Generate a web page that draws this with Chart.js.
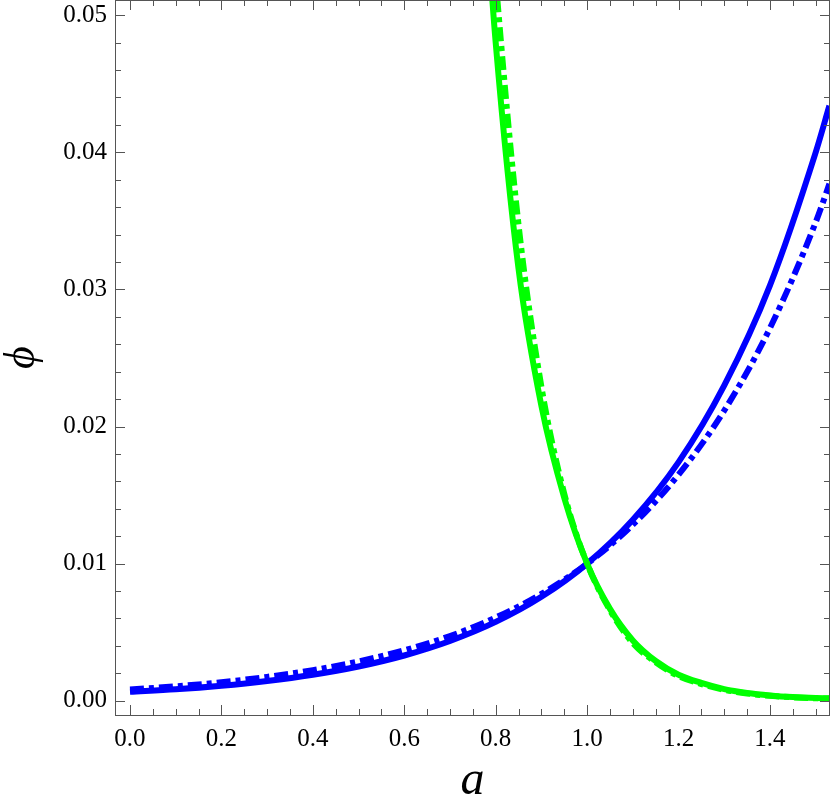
<!DOCTYPE html>
<html><head><meta charset="utf-8">
<script src="https://cdn.jsdelivr.net/npm/chart.js@4.4.0/dist/chart.umd.min.js"></script>
<style>html,body{margin:0;padding:0;background:#fff;overflow:hidden}#wrap{width:830px;height:797px}</style>
</head><body><div id="wrap"><canvas id="c" width="830" height="797"></canvas></div>
<script>
// ---- data ----
const aBlue = [0, 0.1, 0.2, 0.3, 0.4, 0.5, 0.6, 0.7, 0.8, 0.9, 1.0, 1.1, 1.2, 1.3, 1.4, 1.5, 1.53];
const phiBlueSolid  = [0.00065, 0.00083, 0.00109, 0.00144, 0.0019, 0.0025, 0.0033, 0.00436, 0.00575, 0.00758, 0.0100, 0.0132, 0.0174, 0.0230, 0.0303, 0.0400, 0.0434];
const phiBlueDashed = [0.00082, 0.00105, 0.00135, 0.00174, 0.00223, 0.00287, 0.00368, 0.00472, 0.00607, 0.00779, 0.0100, 0.01284, 0.01649, 0.02117, 0.02718, 0.0349, 0.0377];
const aGreen = [0.77, 0.8, 0.85, 0.9, 0.95, 1.0, 1.05, 1.1, 1.15, 1.2, 1.25, 1.3, 1.35, 1.4, 1.45, 1.5, 1.53];
const phiGreenSolid  = [0.0616, 0.048, 0.0315, 0.0215, 0.0148, 0.0100, 0.0067, 0.0044, 0.0029, 0.0019, 0.0013, 0.00085, 0.00057, 0.00039, 0.00027, 0.0002, 0.00018];
const phiGreenDashed = [0.0660, 0.0526, 0.0347, 0.0229, 0.0151, 0.0100, 0.0066, 0.0042, 0.0028, 0.0018, 0.00122, 0.0008, 0.00053, 0.00036, 0.00025, 0.00018, 0.00016];
const xTickValues = [0, 0.2, 0.4, 0.6, 0.8, 1.0, 1.2, 1.4];
const yTickValues = [0, 0.01, 0.02, 0.03, 0.04, 0.05];
const xTitle = 'a';
const yTitle = '\u03D5';

const serif = "'Liberation Serif','Times New Roman',serif";
function pts(xs, ys) { return xs.map((v, i) => ({ x: v, y: ys[i] })); }

const framePlugin = {
  id: 'frame',
  afterDraw(chart) {
    const { ctx, chartArea: ca, scales } = chart;
    const xs = scales.x, ys = scales.y;
    ctx.save();
    ctx.strokeStyle = '#555';
    ctx.lineWidth = 1;
    ctx.strokeRect(ca.left + 0.5, ca.top + 0.5, ca.right - ca.left - 1, ca.bottom - ca.top);
    ctx.beginPath();
    for (let i = 0; i <= 30; i++) {
      const v = i * 0.05;
      if (v > xs.max) break;
      const px = Math.round(xs.getPixelForValue(v)) + 0.5;
      const len = (i % 4 === 0) ? 10 : 6;
      ctx.moveTo(px, ca.bottom); ctx.lineTo(px, ca.bottom - len);
      ctx.moveTo(px, ca.top); ctx.lineTo(px, ca.top + len);
    }
    for (let i = 0; i <= 25; i++) {
      const v = i * 0.002;
      if (v > ys.max) break;
      const py = Math.round(ys.getPixelForValue(v)) + 0.5;
      const len = (i % 5 === 0) ? 10 : 6;
      ctx.moveTo(ca.left, py); ctx.lineTo(ca.left + len, py);
      ctx.moveTo(ca.right, py); ctx.lineTo(ca.right - len, py);
    }
    ctx.stroke();
    ctx.restore();
  }
};

const common = { pointRadius: 0, borderWidth: 6, fill: false, cubicInterpolationMode: 'monotone', clip: 0 };

new Chart(document.getElementById('c'), {
  type: 'line',
  data: {
    datasets: [
      Object.assign({ label: 'blue solid', data: pts(aBlue, phiBlueSolid), borderColor: '#0000ff', order: 4 }, common),
      Object.assign({ label: 'blue dashed', data: pts(aBlue, phiBlueDashed), borderColor: '#0000ff', borderDash: [14, 5, 5, 5], order: 3 }, common),
      Object.assign({ label: 'green solid', data: pts(aGreen, phiGreenSolid), borderColor: '#00ff00', order: 2 }, common),
      Object.assign({ label: 'green dashed', data: pts(aGreen, phiGreenDashed), borderColor: '#00ff00', borderDash: [14, 5, 5, 5], order: 1 }, common)
    ]
  },
  options: {
    responsive: false,
    devicePixelRatio: 1,
    animation: false,
    layout: { autoPadding: false, padding: { top: 0, right: 0, left: 0, bottom: 0 } },
    plugins: { legend: { display: false }, tooltip: { enabled: false } },
    scales: {
      x: {
        type: 'linear', min: -0.0328, max: 1.5313,
        grid: { display: false, drawTicks: false },
        border: { display: false },
        afterBuildTicks: s => { s.ticks = xTickValues.map(v => ({ value: v })); },
        afterFit: s => { s.height = 82; s.paddingLeft = 0; s.paddingRight = 0; s.paddingTop = 0; s.paddingBottom = 0; },
        ticks: { color: '#000', padding: 9, maxRotation: 0, autoSkip: false, font: { family: serif, size: 25 }, callback: v => Number(v).toFixed(1) },
        title: { display: true, text: xTitle, color: '#000', padding: 0, font: { family: serif, size: 48, style: 'italic', lineHeight: 0.64 } }
      },
      y: {
        type: 'linear', min: -0.00104, max: 0.05111,
        grid: { display: false, drawTicks: false },
        border: { display: false },
        afterBuildTicks: s => { s.ticks = yTickValues.map(v => ({ value: v })); },
        afterFit: s => { s.width = 115; s.paddingLeft = 0; s.paddingRight = 0; s.paddingTop = 0; s.paddingBottom = 0; },
        ticks: { color: '#000', padding: 8, autoSkip: false, font: { family: serif, size: 25 }, callback: v => Number(v).toFixed(2) },
        title: { display: true, text: yTitle, color: '#000', padding: 0, font: { family: serif, size: 44, style: 'italic', lineHeight: 1 } }
      }
    }
  },
  plugins: [framePlugin]
});
</script>
</body></html>
